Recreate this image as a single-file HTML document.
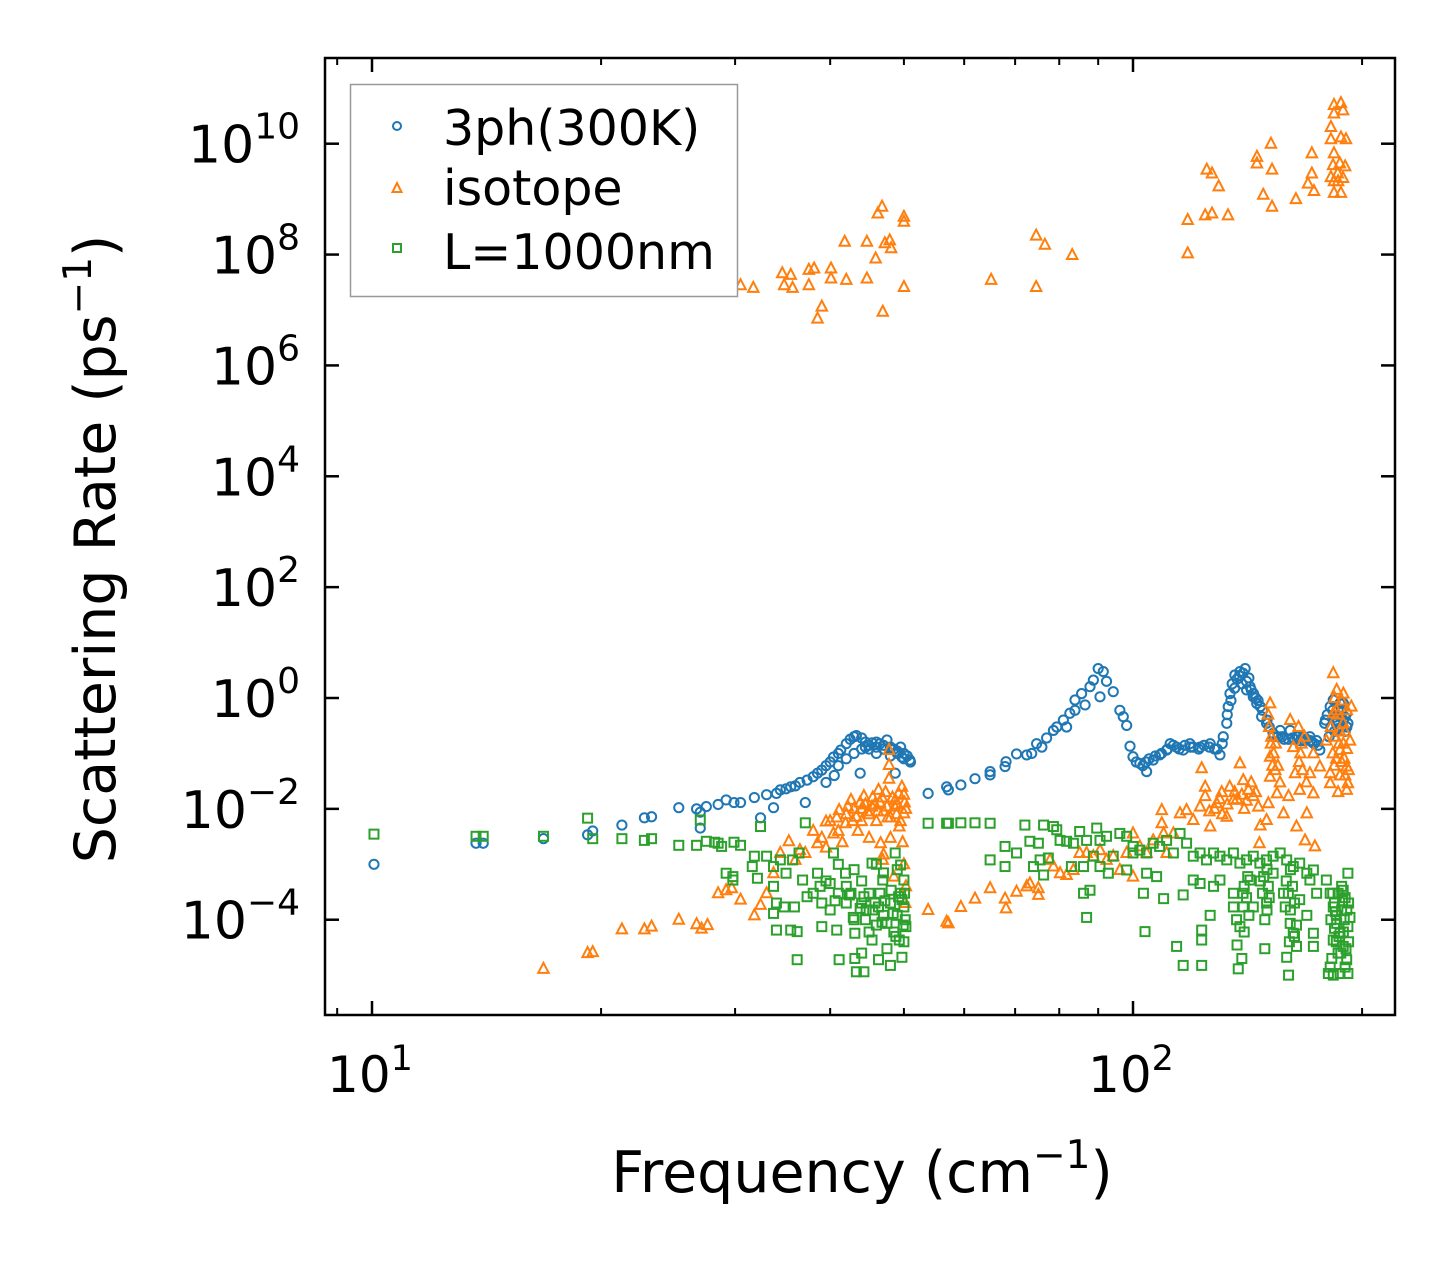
<!DOCTYPE html>
<html><head><meta charset="utf-8"><style>
html,body{margin:0;padding:0;background:#fff;}
svg{display:block;font-family:"DejaVu Sans","Liberation Sans",sans-serif;}
</style></head><body>
<svg id="chart" width="1455" height="1265" viewBox="0 0 1455 1265" xmlns="http://www.w3.org/2000/svg">
<rect x="0" y="0" width="1455" height="1265" fill="#fff"/>
<g id="marks"></g>
<g id="axes"></g>
<text transform="translate(115,549) rotate(-90)" text-anchor="middle" font-size="57">Scattering Rate (ps<tspan font-size="39" dy="-24">−1</tspan><tspan dy="24">)</tspan></text>
<text x="862" y="1192" text-anchor="middle" font-size="57">Frequency (cm<tspan font-size="39" dy="-24">−1</tspan><tspan dy="24">)</tspan></text>
<g>
<rect x="350.5" y="84.5" width="387" height="212" fill="#fff" stroke="#999" stroke-width="1.5"/>
<circle cx="397" cy="126" r="4" fill="none" stroke="#1f77b4" stroke-width="2"/>
<text x="443" y="145" font-size="49">3ph(300K)</text>
<path d="M397,183 L401.5,192 L392.5,192 Z" fill="none" stroke="#ff7f0e" stroke-width="2"/>
<text x="443" y="205" font-size="49">isotope</text>
<rect x="393" y="244" width="8" height="8" fill="none" stroke="#2ca02c" stroke-width="2"/>
<text x="443" y="269" font-size="49">L=1000nm</text>
</g>
</svg>
<script>
const xTickExps = [1, 2];
const yTickExps = [-4, -2, 0, 2, 4, 6, 8, 10];
const xMinorTicks = [9, 20, 30, 40, 50, 60, 70, 80, 90, 200];

const phonon3 = [[10.06,1.0e-3],[13.7,2.4e-3],[14.0,2.4e-3],[16.8,2.9e-3],[19.2,3.4e-3],[19.5,4e-3],[21.3,5.1e-3],[22.8,6.9e-3],[23.3,7.2e-3],[25.3,1.05e-2],[26.7,1.0e-2],[27.0,4.5e-3],[27.0,8.7e-3],[27.5,1.1e-2],[28.5,1.2e-2],[29.2,1.45e-2],[29.9,1.3e-2],[30.5,1.3e-2],[31.8,1.6e-2],[32.4,6.9e-3],[33.0,1.8e-2],[33.7,1.05e-2],[34.4,2.2e-2],[35.5,2.5e-2],[37.1,1.3e-2],[37.3,3.3e-2],[38.5,4.4e-2],[40.4,8.6e-2],[41.3,0.115],[43.3,0.21],[43.8,4.4e-2],[45.4,0.155],[47.5,0.175],[48.7,4.4e-2],[49.7,8.6e-2],[50.9,7.6e-2],
[34.0,1.9e-2],[35,2.3e-2],[36,2.6e-2],[36.5,3e-2],[38,3.8e-2],[39,5e-2],[39.5,6e-2],[40,7e-2],[41,0.1],[42,0.15],[42.5,0.18],[43,0.2],[44,0.19],[44.5,0.16],[45,0.14],[46,0.13],[46.5,0.15],[47,0.14],[48,0.13],[48.5,0.12],[49,0.11],[49.5,0.13],[50,0.1],[50.5,0.09],[44,0.12],[46,0.1],[48,0.09],[42,0.08],[41,0.06],[43,0.1],[39.5,0.03],[40.5,0.04],
[53.8,1.9e-2],[56.9,2.5e-2],[57.2,2.2e-2],[59.4,2.7e-2],[62.0,3.5e-2],[64.9,4.7e-2],[64.9,4.1e-2],[67.9,5.8e-2],[68.1,7.1e-2],[70.3,9.8e-2],[72.5,9.4e-2],[73.6,0.1],[74.7,0.15],[75.9,0.13],[77.0,0.19],[78.6,0.26],[79.4,0.30],[81.0,0.40],[81.8,0.30],[82.6,0.53],[83.9,0.6],[83.9,0.92],[85.6,1.2],[86.5,0.75],[87.8,1.6],[88.7,2.1],[90.0,3.4],[91.4,3.0],[90.5,1.05],[92.3,2.0],[94.2,1.3],[96.1,0.6],[97.1,0.46],[98.1,0.32],[99.1,0.135],[100,8.7e-2],[102.1,6.6e-2],[104.2,4.7e-2],[106.3,7.6e-2],[108.4,9.4e-2],[110.7,0.115],[111.9,0.15],[114.1,0.13],[116.4,0.115],[118.8,0.15],[122.5,0.13],[126.3,0.15],[130.1,9.4e-2],[131.4,0.2],[132.8,0.35],[133.4,0.7],[134.1,1.2],[136.1,2.6],[138.2,3.0],[140.4,3.4],[141.0,2.0],[142.5,1.6],[143.9,1.05],[145.4,0.8],[147.6,0.46],[149.8,0.35],[152.8,0.23],[156.1,0.26],[160.9,0.26],[164.0,0.2],[167.4,0.2],[170.8,0.2],[174.3,0.17],[176.0,0.115],[178.6,0.35],[181.6,0.7],[183.3,0.92],[187.1,0.46],[190.9,0.53],[191.6,0.35],
[101,7e-2],[103,6e-2],[105,8e-2],[109,0.1],[113,0.14],[117,0.14],[120,0.13],[124,0.14],[128,0.12],[135,1.8],[137,2.2],[139,1.8],[141,1.4],[144,1.2],[146,0.9],[148,0.6],[150,0.4],[155,0.2],[158,0.18],[162,0.19],[166,0.17],[169,0.18],[172,0.16],[180,0.5],[182,0.3],[184,0.25],[186,0.6],[188,0.3],[189,0.8],[190,0.25],
[104,0.07],[107,0.09],[111,0.12],[115,0.12],[119,0.13],[122,0.12],[126,0.13],[129,0.12],[131,0.15],[133,0.5],[134.5,0.9],[136,1.5],[138,2.5],[139.5,2.8],[142,2.3],[143,1.4],[145,1.0],[147,0.7],[151,0.3],[153,0.2],[157,0.2],[160,0.18],[163,0.18],[165,0.2],[168,0.17],[171,0.17],[173,0.15],[175,0.14],[179,0.4],[181,0.2],[183,0.6],[185,0.35],[187,0.8],[189,0.4],[191,0.3],[184,0.45],[186,0.28],[188,0.6],[190,0.45],[45,0.12],[47,0.12],[49,0.1],[44.5,0.13],[46,0.16],[48,0.12],[50,0.08],[51,0.07]];

const isotope = [[30.5,2.8e7],[31.7,2.5e7],[34.6,4.6e7],[35.5,4.3e7],[34.8,2.8e7],[35.7,2.5e7],[37.5,5.3e7],[38.1,5.6e7],[37.5,2.8e7],[40.1,5.6e7],[40.1,3.7e7],[42.0,3.5e7],[44.7,3.7e7],[39.0,1.15e7],[38.5,7e6],[41.8,1.7e8],[44.7,1.7e8],[47.2,1.6e8],[47.9,1.8e8],[48.1,1.3e8],[45.9,8.5e7],[46.2,5.5e8],[46.8,7.3e8],[50.0,4.8e8],[50.0,3.9e8],[46.9,9.3e6],[50.0,2.6e7],[65.1,3.5e7],[74.6,2.6e7],[74.6,2.2e8],[76.6,1.5e8],[83.2,9.8e7],[118,4.2e8],[118,1.05e8],[124.4,5.1e8],[127,5.5e8],[133.3,5.1e8],[125,3.4e9],[127,2.9e9],[129.6,1.7e9],[145.5,5.8e9],[145.5,4.4e9],[151.8,1.0e10],[152.3,3.4e9],[148.3,1.2e9],[152.3,7.3e8],[163.7,1.0e9],[171.8,6.7e9],[171.8,2.9e9],[169.8,1.9e9],[172.9,1.4e9],[182,2e10],[183.7,3.5e10],[183.7,5e10],[187.6,5.4e10],[188.8,4e10],[182,1.2e10],[187.6,1.3e10],[190.5,1.2e10],[183.7,6.7e9],[187,4.4e9],[190,3.9e9],[182,2.5e9],[186,2.1e9],[183.7,1.3e9],[187.6,1.3e9],[183.2,4.1e9],[185.8,2.9e9],[188.8,2.4e9],[183.7,2.1e9],
[16.8,1.3e-5],[19.2,2.5e-5],[19.5,2.6e-5],[21.3,6.7e-5],[22.8,6.7e-5],[23.3,7.5e-5],[25.3,1e-4],[26.7,8.3e-5],[27.1,6.9e-5],[27.6,8e-5],[28.5,3e-4],[29.2,3.4e-4],[29.7,3.7e-4],[30.5,2.3e-4],[31.8,1.2e-4],[32.4,1.85e-4],[33.0,3e-4],[33.7,6.9e-4],[34.4,1.6e-3],[35.3,2.6e-3],[36.0,1.2e-3],[37.1,1.6e-3],[38.5,2.4e-3],[39.5,5.9e-3],[40.4,3.6e-3],[41.1,9.5e-3],[41.9,5.5e-3],[42.6,1.45e-2],[43.3,7.2e-3],[44.3,1.7e-2],[45.4,1.1e-2],[46.3,2.2e-2],[46.6,2.4e-3],[46.9,1.2e-3],[47.5,1.1e-2],[47.8,0.115],[47.8,6.2e-2],[47.8,3.5e-2],[48.7,1.45e-2],[49.3,4.8e-3],[49.7,2.5e-2],[50.0,8.3e-3],[50.3,4e-4],
[38,4e-3],[39,3e-3],[40,6e-3],[41,4e-3],[42,8e-3],[43,1e-2],[44,6e-3],[44.5,1.2e-2],[45,8e-3],[45.5,1.6e-2],[46,6e-3],[46.5,1.3e-2],[47,9e-3],[47.3,2e-2],[48,7e-3],[48.3,1.6e-2],[49,1.2e-2],[49.5,6e-3],[50,1.8e-2],[50.3,1e-2],[43.5,4e-3],[41.5,2.5e-3],[45,3e-3],[48,3e-3],[49.8,2.5e-3],[36.5,1.8e-3],[39.5,2e-3],[47,1.5e-3],[50,1e-3],[48.5,6e-4],[50.2,2e-4],
[40.8,7e-3],[42.2,1.1e-2],[43.8,1.3e-2],[44.8,9e-3],[45.8,1.2e-2],[46.8,1.6e-2],[47.6,7e-3],[48.6,1.1e-2],[49.2,1.9e-2],[50.1,1.3e-2],[42.8,6e-3],[44,1e-2],[46.2,9e-3],[48.9,8e-3],
[53.8,1.5e-4],[56.9,9.2e-5],[57.2,8.6e-5],[59.4,1.7e-4],[62.0,2.4e-4],[64.9,3.7e-4],[67.9,2.4e-4],[68.1,1.6e-4],[70.3,3.2e-4],[72.5,4e-4],[73.2,4.5e-4],[75.1,3.7e-4],[75.1,2.8e-4],[77.8,1.2e-3],[78.6,9.1e-4],[80.2,6.9e-4],[81.8,6.4e-4],[83.5,7.9e-4],[85.1,1.6e-3],[86.9,1.6e-3],[88.7,1.4e-3],[90.5,1.8e-3],[92.3,1.2e-3],[94.2,1.4e-3],[96.1,7.9e-4],[98.1,1.6e-3],[100,3.6e-3],[100,6e-4],[102.1,2.1e-3],[104.2,1.6e-3],[106.3,2.7e-3],[109.1,9.5e-3],[109.1,5.5e-3],[109.7,3.6e-3],[110.7,1.6e-3],[113,3.6e-3],[115.3,8.3e-3],[117.6,9.5e-3],[120,6.3e-3],[122.5,1.1e-2],[123.1,5.4e-2],[124.4,2.5e-2],[124.4,1.7e-2],[126.3,4.8e-3],[128.8,1.26e-2],[130.8,2.0e-2],[132.8,7.2e-3],[135.5,1.45e-2],[138.2,6.6e-2],[139.6,3.3e-2],[141.8,2.2e-2],[143.9,1.7e-2],[146.1,1.1e-2],[146.6,2.4e-3],[149.8,6.3e-3],[150.6,1.26e-2],[151.4,3.8e-2],[151.4,8.7e-2],[151.4,0.8],[153.8,5e-2],[154.6,1.9e-2],[157.7,8.3e-3],[160.1,1.7e-2],[160.9,0.4],[162.4,0.13],[163.3,4.4e-2],[164.0,4.8e-3],[165.6,2.2e-2],[168.3,2.7e-3],[169.2,8.3e-3],[170.8,4.4e-2],[172.6,0.1],[173.4,2.1e-3],[172.6,1.9e-2],[176,5.8e-2],[179.5,0.17],[181.6,4.4e-2],[183.3,2.8],[183.3,0.53],[185.2,1.4],[187.1,0.115],[188.9,0.35],[190.9,5.8e-2],[191.6,2.9e-2],[190.9,2.2e-2],[192.8,0.17],[193.6,0.7],[181.6,2.9e-2],
[152,0.2],[153,0.1],[155,0.06],[156,0.03],[151,0.3],[154,0.15],[165,0.3],[166,0.1],[167,0.05],[168,0.2],[169,0.03],[182,0.3],[184,0.2],[185,0.08],[186,0.5],[187,0.04],[188,0.9],[189,0.15],[190,0.25],[191,0.6],[192,0.05],[184,1.0],[186,0.02],[190,0.04],[188,0.07],[128,1e-2],[131,8e-3],[134,2.5e-2],[137,1.5e-2],[140,1e-2],[143,3e-2],[145,2e-2],[147,5e-3],
[183,0.1],[185,0.6],[187,0.25],[189,1.2],[191,0.12],[183.8,0.06],[186.5,0.15],[189.5,0.08],[150.5,0.5],[152.5,0.06],[151.8,0.15],[166.5,0.15],[165.3,0.07],[139,1.8e-2],[141,1.4e-2],[136,2e-2],[133,1.2e-2],[130,1.5e-2],[126,9e-3]];

const boundary = [[10.06,3.5e-3],[13.7,3.2e-3],[14.0,3.2e-3],[16.8,3.2e-3],[19.2,6.8e-3],[19.5,2.9e-3],[21.3,2.9e-3],[22.8,2.7e-3],[23.3,2.9e-3],[25.3,2.2e-3],[26.7,2.2e-3],[27.0,6.3e-3],[27.5,2.6e-3],[28.2,2.5e-3],[28.5,2.4e-3],[28.8,2.1e-3],[29.9,2.5e-3],[30.5,2.2e-3],[32.4,4.8e-3],[37.1,5.6e-3],[29.2,6.9e-4],[29.8,6e-4],[29.8,5.2e-4],[31.8,1.4e-3],[31.6,9.1e-4],[32.1,5.6e-4],[33.0,1.4e-3],[33.7,9.1e-4],[34.4,1.2e-3],[35.0,6.9e-4],[35.7,1.2e-3],[36.4,1.6e-3],[36.8,5.2e-4],[33.7,4e-4],[34.0,2e-4],[33.7,1.3e-4],[34.0,6.5e-5],[35.5,6.5e-5],[36.2,6.1e-5],[36.2,1.9e-5],[34.8,1.7e-4],[35.9,1.7e-4],[37.3,2.6e-4],[38.5,6.9e-4],[39.0,7.5e-5],[40.0,4.5e-4],[40.4,1.6e-3],[40.8,6.5e-5],[41.1,1.9e-5],[41.9,6.9e-4],[42.6,3e-4],[42.9,1.1e-4],[43.1,5.7e-5],[43.1,2e-5],[43.3,1.15e-5],[44.0,2.5e-5],[44.3,1.15e-5],[44.3,2.6e-4],[45.4,1.05e-3],[45.4,4.3e-5],[46.3,1.7e-4],[46.3,1.9e-5],[46.9,5.2e-4],[47.5,8.6e-5],[48.1,3.4e-4],[48.7,1.6e-3],[49.3,4.3e-5],[49.5,9.7e-4],[49.7,2.1e-5],[50.0,5.2e-4],[50.0,1.7e-4],[50.3,7.5e-5],[49.7,2.3e-4],
[38,3e-4],[39,2e-4],[40,1.5e-4],[41,3e-4],[42,2e-4],[43,1e-4],[44,2e-4],[44.5,1e-4],[45,3e-4],[45.5,1.5e-4],[46,8e-5],[46.5,3e-4],[47,1.2e-4],[47.5,3e-5],[48,2e-4],[48.5,6e-5],[49,1.2e-4],[49.5,3e-4],[50,4e-5],[50.2,1e-4],[48,1.5e-5],[45,6e-5],[42,4e-4],[39.5,5e-4],[44,5e-4],[47,7e-4],[49,8e-4],[46,1e-3],[43,8e-4],[41,1e-3],
[44.6,1.5e-4],[45.8,2e-4],[47.2,2.2e-4],[48.4,1.3e-4],[49.2,2.6e-4],[50.1,3e-4],[46.8,9e-5],[48.8,5e-5],[49.9,8e-5],[43.8,1.6e-4],[42.4,2.8e-4],[40.6,2.2e-4],[38.8,4e-4],
[53.8,5.5e-3],[56.9,5.5e-3],[57.2,5.5e-3],[59.4,5.6e-3],[62.0,5.6e-3],[64.9,5.5e-3],[72.1,5.1e-3],[76.3,5.1e-3],[78.6,4.8e-3],[79.4,4.2e-3],[80.2,2.7e-3],[81.8,2.6e-3],[83.5,2.4e-3],[85.1,3.9e-3],[86.9,2.7e-3],[89.6,4.5e-3],[90.5,2.7e-3],[92.3,3.2e-3],[96.1,3.6e-3],[98.1,3.2e-3],[100,2.1e-3],[67.9,2.1e-3],[70.3,1.6e-3],[64.9,1.2e-3],[67.9,9.1e-4],[73.2,2.6e-3],[75.1,2.4e-3],[75.5,1.2e-3],[74.0,9.1e-4],[77.4,1.3e-3],[76.3,6.4e-4],[83.0,9.1e-4],[86.1,9.1e-4],[88.7,1.4e-3],[90.5,9.1e-4],[92.8,6.9e-4],[86.1,3e-4],[87.8,3.4e-4],[86.9,1.1e-4],[94.2,1.4e-3],[98.1,7.9e-4],[100,1.6e-3],[102.1,1.8e-3],[104.2,1.6e-3],[106.3,2.4e-3],[108.4,2.1e-3],[110.7,2.7e-3],[113,1.6e-3],[115.3,3.6e-3],[117.6,2.4e-3],[120,1.4e-3],[122.5,1.6e-3],[124.9,1.2e-3],[127.6,1.6e-3],[130.1,1.4e-3],[132.8,1.2e-3],[135.5,1.6e-3],[138.2,1.05e-3],[141.0,1.2e-3],[143.9,1.4e-3],[146.8,1.05e-3],[149.8,1.2e-3],[152.8,1.4e-3],[156.1,1.6e-3],[159.2,1.2e-3],[162.4,9.1e-4],[165.6,1.05e-3],[169.2,6.9e-4],[172.6,7.9e-4],[103.7,6.1e-5],[103.2,3e-4],[109.7,2.4e-4],[104.2,6.9e-4],[107.4,6e-4],[114.1,3.3e-5],[116.4,1.5e-5],[116.4,2.8e-4],[123.1,1.5e-5],[123.1,6.5e-5],[123.1,4.3e-5],[126.3,1.2e-4],[120,5.2e-4],[122.5,4.5e-4],[127.6,4e-4],[130.1,5.2e-4],[135.5,3e-4],[135.5,1.7e-4],[136.8,1e-4],[138.2,7.5e-5],[137.5,1.3e-5],[139,2e-5],[139.6,1.7e-4],[143.9,1.7e-4],[142.5,5.2e-4],[149.8,2e-4],[150.6,4e-4],[152.8,6.9e-4],[157.7,3e-4],[158.5,1.7e-4],[159.2,2.1e-5],[160.1,1e-5],[160.9,8.6e-5],[162.4,5.7e-5],[164.0,3.3e-5],[165.6,2.3e-4],[169.2,1.2e-4],[170.8,5.2e-4],[172.6,5.7e-5],[172.6,3.3e-5],[174.3,3e-4],[179.5,5.2e-4],[181.6,3e-4],[183.3,1.7e-4],[185.2,8.6e-5],[187.1,5.7e-5],[188.9,3.3e-5],[190.9,1.9e-5],[191.6,1.07e-5],[183.3,1e-5],[181.6,1.4e-5],[183.3,4.3e-5],[188.9,3.4e-4],[191.6,6.9e-4],[192.8,1.1e-4],[180.6,1.07e-5],[187.1,1.07e-5],[190.0,1.4e-5],[191.6,7.5e-5],
[182,1e-4],[184,2e-4],[185,4e-5],[186,3e-4],[188,1.5e-4],[189,6e-5],[190,2.5e-4],[192,4e-5],[191,1.5e-4],[186,2.5e-5],[184,7e-5],[188,4e-4],[159,5e-4],[160,3e-4],[161,1.5e-4],[162,4e-4],[163,2e-4],[164,8e-5],[147,5e-4],[148,3e-4],[149,1e-4],[151,2.5e-4],[150,8e-4],[140,4e-4],[141,2.5e-4],[142,1.2e-4],[140,6e-5],
[182.5,2e-5],[184.5,1.4e-4],[186.5,5e-5],[188.5,2.2e-4],[190.5,3e-5],[192,2e-4],[183,3e-4],[185,1.2e-4],[187.5,2.5e-5],[189.5,1e-4],[161,8e-4],[163,5e-5],[160.5,4e-5],[148.5,6e-4],[150,1.5e-4],[149,3e-5],[141.5,6e-4],[139.5,3e-4],[137,3.5e-5]];

const NS = 'http://www.w3.org/2000/svg';
const L = 325, R = 1395, T = 58, B = 1015;
const X10 = 372, XDEC = 761;
const Y0 = 698, YDEC = 55.43;
function xs(f) { return X10 + (Math.log10(f) - 1) * XDEC; }
function ys(v) { return Y0 - Math.log10(v) * YDEC; }
function mk(tag, attrs, parent) {
  const e = document.createElementNS(NS, tag);
  for (const k in attrs) e.setAttribute(k, attrs[k]);
  parent.appendChild(e);
  return e;
}
const marks = document.getElementById('marks');
const axes = document.getElementById('axes');

phonon3.forEach(function (p) {
  const c = mk('circle', {cx: xs(p[0]), cy: ys(p[1]), r: 4.6, fill: 'none', stroke: '#1f77b4', 'stroke-width': 2}, marks);
  
  
});
isotope.forEach(function (p) {
  const x = xs(p[0]), y = ys(p[1]);
  const t = mk('path', {d: 'M' + x + ',' + (y - 6) + ' L' + (x + 5.2) + ',' + (y + 4) + ' L' + (x - 5.2) + ',' + (y + 4) + ' Z', fill: 'none', stroke: '#ff7f0e', 'stroke-width': 2}, marks);
  
  
});
boundary.forEach(function (p) {
  const x = xs(p[0]), y = ys(p[1]);
  const s = mk('rect', {x: x - 4.5, y: y - 4.5, width: 9, height: 9, fill: 'none', stroke: '#2ca02c', 'stroke-width': 2}, marks);
  
  
});

const frame = mk('rect', {x: L, y: T, width: R - L, height: B - T, fill: 'none', stroke: '#000', 'stroke-width': 2.5}, axes);



xTickExps.forEach(function (e) {
  const x = xs(Math.pow(10, e));
  const t1 = mk('line', {x1: x, x2: x, y1: B, y2: B - 14, stroke: '#000', 'stroke-width': 2.5}, axes);
  
  
  const t2 = mk('line', {x1: x, x2: x, y1: T, y2: T + 14, stroke: '#000', 'stroke-width': 2.5}, axes);
  
  
  const lb = mk('text', {x: x - 2, y: 1092, 'text-anchor': 'middle', 'font-size': 50}, axes);
  
  
  lb.textContent = '10';
  const sp = mk('tspan', {'font-size': 35, dy: -22}, lb);
  sp.textContent = String(e);
});
xMinorTicks.forEach(function (f) {
  const x = xs(f);
  const t1 = mk('line', {x1: x, x2: x, y1: B, y2: B - 7, stroke: '#000', 'stroke-width': 2}, axes);
  
  
  const t2 = mk('line', {x1: x, x2: x, y1: T, y2: T + 7, stroke: '#000', 'stroke-width': 2}, axes);
  
  
});
yTickExps.forEach(function (e) {
  const y = ys(Math.pow(10, e));
  const t1 = mk('line', {x1: L, x2: L + 14, y1: y, y2: y, stroke: '#000', 'stroke-width': 2.5}, axes);
  
  
  const t2 = mk('line', {x1: R, x2: R - 14, y1: y, y2: y, stroke: '#000', 'stroke-width': 2.5}, axes);
  
  
  const lb = mk('text', {x: 300, y: y + 19, 'text-anchor': 'end', 'font-size': 52}, axes);
  
  
  lb.textContent = '10';
  const sp = mk('tspan', {'font-size': 36, dy: -24}, lb);
  sp.textContent = e < 0 ? '−' + Math.abs(e) : String(e);
});
</script>
</body></html>
